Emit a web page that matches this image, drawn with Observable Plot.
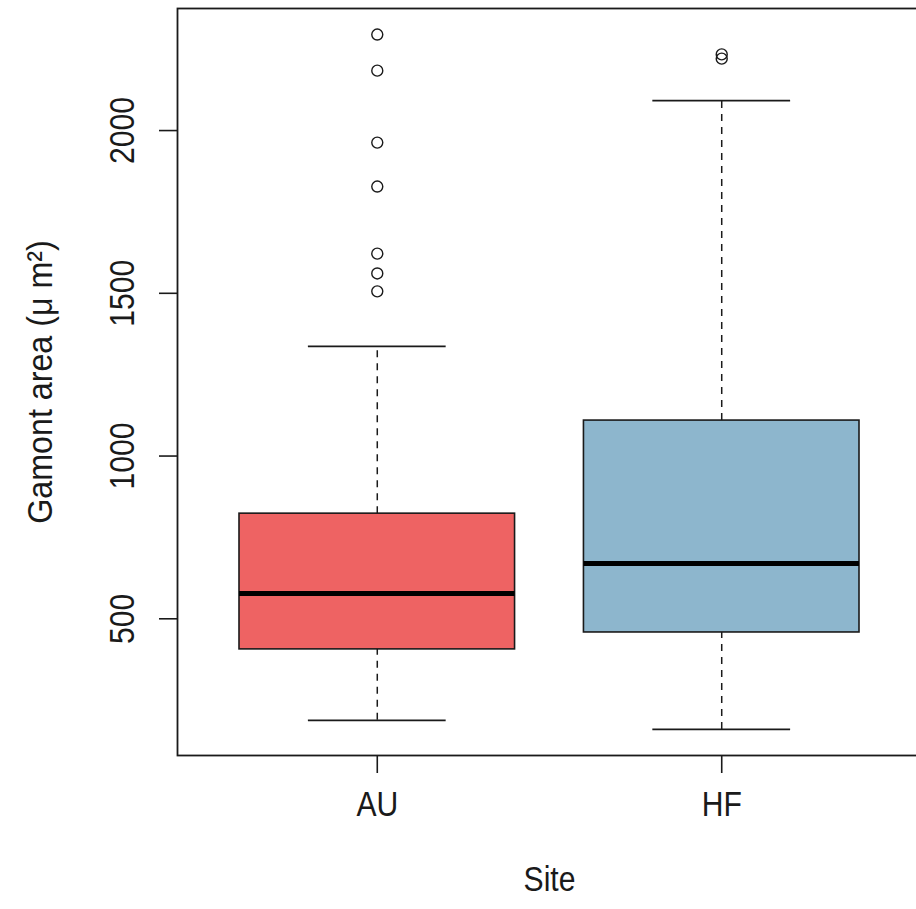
<!DOCTYPE html>
<html>
<head>
<meta charset="utf-8">
<script src="https://cdn.jsdelivr.net/npm/d3@7"></script>
<script src="https://cdn.jsdelivr.net/npm/@observablehq/plot@0.6"></script>
<style>
  html, body { margin: 0; padding: 0; background: #fff; }
  #chart svg { display: block; }
</style>
</head>
<body>
<div id="chart"></div>
<script>
// Gamont area by collection site: five-number summaries and outliers
const sites = ["AU", "HF"];
const fills = ["#EE6363", "#8DB6CD"];
const lowerWhisker = [188, 160];
const q1 = [406, 458];
const median = [578, 670];
const q3 = [823, 1109];
const upperWhisker = [1337, 2092];
const outliersAU = [2295, 2184, 1963, 1828, 1622, 1561, 1506];
const outliersHF = [2234, 2221];
const yTicks = [500, 1000, 1500, 2000];
const yLabel = "Gamont area (\u03BC m\u00B2)";
const xLabel = "Site";

const boxes = sites.map((site, i) => ({
  site, pos: i + 1,
  lo: lowerWhisker[i], q1: q1[i], med: median[i], q3: q3[i], hi: upperWhisker[i]
}));
const outliers = [
  ...outliersAU.map(v => ({site: "AU", pos: 1, v})),
  ...outliersHF.map(v => ({site: "HF", pos: 2, v}))
];

const ink = "#1a1a1a";
const fontFamily = "'Liberation Sans', Arial, sans-serif";
const fontSize = 35;
const boxHalf = 0.4, capHalf = 0.2;

const chart = Plot.plot({
  width: 916,
  height: 909,
  marginLeft: 177,
  marginRight: -5,
  marginTop: 8,
  marginBottom: 154,
  style: {fontFamily, background: "#fff", color: ink},
  x: {domain: [0.42, 2.58], axis: null},
  y: {domain: [80, 2375], axis: null},
  color: {domain: sites, range: fills},
  marks: [
    // whiskers (dashed), drawn under the boxes
    Plot.ruleX(boxes, {x: "pos", y1: "q3", y2: "hi", stroke: ink, strokeWidth: 1.5, strokeDasharray: "7,6"}),
    Plot.ruleX(boxes, {x: "pos", y1: "lo", y2: "q1", stroke: ink, strokeWidth: 1.5, strokeDasharray: "7,6"}),
    // whisker caps
    Plot.ruleY(boxes, {y: "hi", x1: d => d.pos - capHalf, x2: d => d.pos + capHalf, stroke: ink, strokeWidth: 1.8}),
    Plot.ruleY(boxes, {y: "lo", x1: d => d.pos - capHalf, x2: d => d.pos + capHalf, stroke: ink, strokeWidth: 1.8}),
    // interquartile boxes
    Plot.rect(boxes, {x1: d => d.pos - boxHalf, x2: d => d.pos + boxHalf, y1: "q1", y2: "q3", fill: "site", stroke: ink, strokeWidth: 1.6}),
    // medians
    Plot.ruleY(boxes, {y: "med", x1: d => d.pos - boxHalf, x2: d => d.pos + boxHalf, stroke: "#000", strokeWidth: 5}),
    // outliers
    Plot.dot(outliers, {x: "pos", y: "v", r: 5.5, stroke: ink, strokeWidth: 1.4, fill: "none"}),
    // plot box
    Plot.frame({stroke: ink, strokeWidth: 1.8}),
    // axis ticks
    Plot.axisY({ticks: yTicks, anchor: "left", label: null, tickSize: 18, tickFormat: () => "", stroke: ink, strokeWidth: 1.6}),
    Plot.axisX({ticks: [1, 2], anchor: "bottom", label: null, tickSize: 18, tickFormat: () => "", stroke: ink, strokeWidth: 1.6}),
    // tick labels
    Plot.text(yTicks, {y: d => d, text: d => String(d), frameAnchor: "left", dx: -55, rotate: -90, textAnchor: "middle", fontSize, fill: ink, className: "narrow"}),
    Plot.text(boxes, {x: "pos", text: "site", frameAnchor: "bottom", dy: 60, textAnchor: "middle", fontSize, fill: ink, className: "narrow"}),
    // axis titles
    Plot.text([xLabel], {frameAnchor: "bottom", dy: 135, text: d => d, textAnchor: "middle", fontSize, fill: ink, className: "narrow"}),
    Plot.text([yLabel], {frameAnchor: "left", dx: -137, rotate: -90, text: d => d, textAnchor: "middle", fontSize, fill: ink, className: "narrow-title"})
  ]
});

// Condense the lettering along its reading direction (narrow sans look)
const ctx = document.createElement("canvas").getContext("2d");
ctx.font = `${fontSize}px ${fontFamily}`;
function condense(selector, factor) {
  d3.select(chart).selectAll(selector + " text").each(function() {
    const w = ctx.measureText(this.textContent).width;
    if (w > 0) {
      d3.select(this)
        .attr("textLength", (w * factor).toFixed(1))
        .attr("lengthAdjust", "spacingAndGlyphs");
    }
  });
}
condense(".narrow", 0.86);
condense(".narrow-title", 0.92);

document.getElementById("chart").appendChild(chart);
</script>
</body>
</html>
